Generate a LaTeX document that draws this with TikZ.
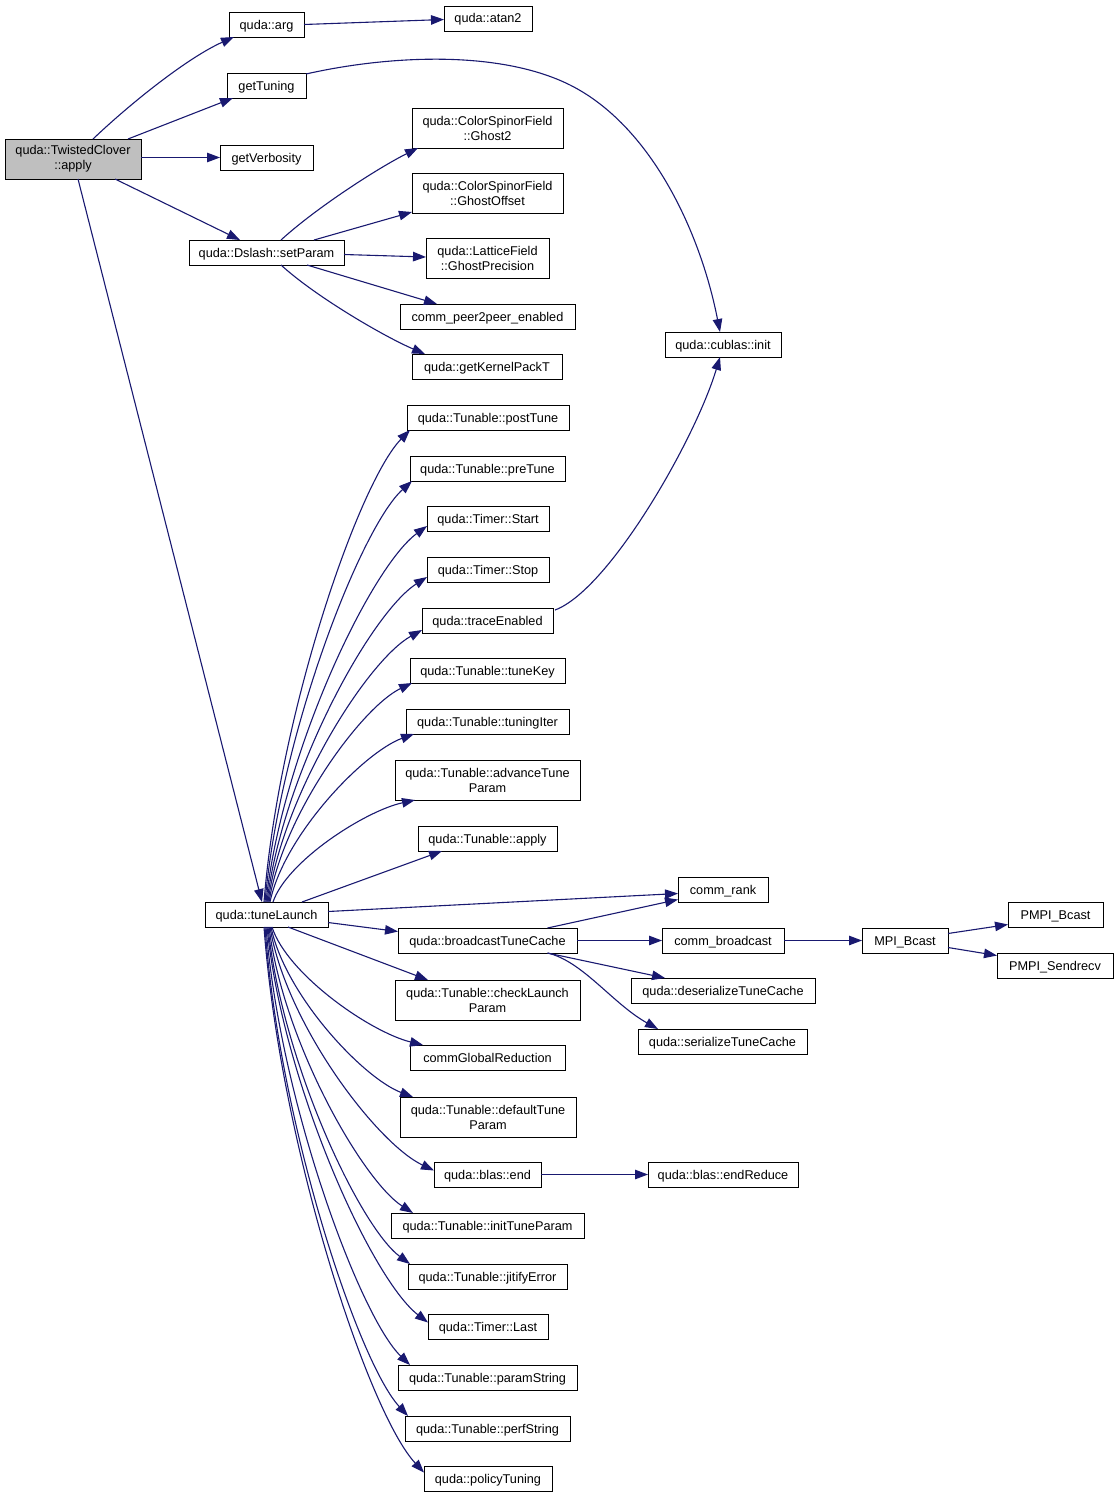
\documentclass[tikz,border=0pt]{standalone}
\usepackage{fontspec}
\setmainfont{Liberation Sans}
\usetikzlibrary{arrows.meta,calc}
\definecolor{edgecol}{HTML}{191970}
\definecolor{rootfill}{HTML}{BFBFBF}
\tikzset{
  base/.style={draw=black, line width=1pt, fill=white, inner sep=0pt, outer sep=0pt,
    align=center, font=\fontsize{12.7}{15}\selectfont},
  box/.style={base, minimum height=25pt, text height=10.5pt, text depth=1.5pt},
  tall/.style={base, minimum height=40pt},
  edge/.style={draw=edgecol, line width=1.1pt, -{Triangle[length=13pt,width=9.5pt]}},
}
\begin{document}
\begin{tikzpicture}[x=1pt,y=-1pt]
\useasboundingbox (0,0) rectangle (1119,1499);
% nodes
\node[tall,fill=rootfill,minimum width=136pt] (apply) at (73,159) {quda::TwistedClover\\::apply};
\node[box,minimum width=75pt] (arg) at (266.5,24.5) {quda::arg};
\node[box,minimum width=88pt] (atan2) at (488,18.5) {quda::atan2};
\node[box,minimum width=79pt] (getTuning) at (266.5,85.5) {getTuning};
\node[box,minimum width=93pt] (getVerbosity) at (266.5,157.5) {getVerbosity};
\node[box,minimum width=155pt] (setParam) at (266.5,252.5) {quda::Dslash::setParam};
\node[tall,minimum width=151pt] (ghost2) at (487.5,128) {quda::ColorSpinorField\\::Ghost2};
\node[tall,minimum width=151pt] (ghostOffset) at (487.5,193) {quda::ColorSpinorField\\::GhostOffset};
\node[tall,minimum width=123pt] (ghostPrec) at (487.5,258) {quda::LatticeField\\::GhostPrecision};
\node[box,minimum width=175pt] (peer) at (487.5,316.5) {comm\_peer2peer\_enabled};
\node[box,minimum width=150pt] (packT) at (487,366.5) {quda::getKernelPackT};
\node[box,minimum width=116pt] (cublas) at (723,344.5) {quda::cublas::init};
\node[box,minimum width=162pt] (postTune) at (488,417.5) {quda::Tunable::postTune};
\node[box,minimum width=155pt] (preTune) at (487.5,468.5) {quda::Tunable::preTune};
\node[box,minimum width=122pt] (tStart) at (488,518.5) {quda::Timer::Start};
\node[box,minimum width=122pt] (tStop) at (488,569.5) {quda::Timer::Stop};
\node[box,minimum width=131pt] (trace) at (487.5,620.5) {quda::traceEnabled};
\node[box,minimum width=155pt] (tuneKey) at (487.5,670.5) {quda::Tunable::tuneKey};
\node[box,minimum width=163pt] (tuningIter) at (487.5,721.5) {quda::Tunable::tuningIter};
\node[tall,minimum width=185pt] (advance) at (487.5,780) {quda::Tunable::advanceTune\\Param};
\node[box,minimum width=139pt] (tapply) at (487.5,838.5) {quda::Tunable::apply};
\node[box,minimum width=123pt] (tl) at (266.5,914.5) {quda::tuneLaunch};
\node[box,minimum width=90pt] (commRank) at (723,889.5) {comm\_rank};
\node[box,minimum width=179pt] (bcast) at (487.5,940.5) {quda::broadcastTuneCache};
\node[box,minimum width=122pt] (commBcast) at (723,940.5) {comm\_broadcast};
\node[box,minimum width=86pt] (mpiBcast) at (905,940.5) {MPI\_Bcast};
\node[box,minimum width=95pt] (pmpiBcast) at (1055.5,914.5) {PMPI\_Bcast};
\node[box,minimum width=116pt] (sendrecv) at (1055,965.5) {PMPI\_Sendrecv};
\node[tall,minimum width=185pt] (checkLaunch) at (487.5,1000) {quda::Tunable::checkLaunch\\Param};
\node[box,minimum width=184pt] (deser) at (723,990.5) {quda::deserializeTuneCache};
\node[box,minimum width=169pt] (ser) at (722.5,1041.5) {quda::serializeTuneCache};
\node[box,minimum width=155pt] (cgr) at (487.5,1057.5) {commGlobalReduction};
\node[tall,minimum width=176pt] (defTune) at (488,1117) {quda::Tunable::defaultTune\\Param};
\node[box,minimum width=107pt] (blasEnd) at (487.5,1174.5) {quda::blas::end};
\node[box,minimum width=150pt] (endReduce) at (723,1174.5) {quda::blas::endReduce};
\node[box,minimum width=193pt] (initTune) at (487.5,1225.5) {quda::Tunable::initTuneParam};
\node[box,minimum width=159pt] (jitify) at (487.5,1276.5) {quda::Tunable::jitifyError};
\node[box,minimum width=120pt] (tLast) at (488,1326.5) {quda::Timer::Last};
\node[box,minimum width=179pt] (paramString) at (487.5,1377.5) {quda::Tunable::paramString};
\node[box,minimum width=165pt] (perfString) at (487.5,1428.5) {quda::Tunable::perfString};
\node[box,minimum width=128pt] (policy) at (488,1478.5) {quda::policyTuning};

% edges from apply
\draw[edge] ($(apply.north west)+(88,0)$) .. controls +(40,-38) and +(-45,20) .. ($(arg.south west)+(5,0)$);
\draw[edge] ($(apply.north west)+(123,0)$) -- ($(getTuning.south west)+(6,0)$);
\draw[edge] ($(apply.east)+(0,-1.5)$) -- (getVerbosity.west);
\draw[edge] ($(apply.south west)+(110,0)$) -- ($(setParam.north west)+(51,0)$);
\draw[edge] ($(apply.south west)+(73,0)$) -- ($(tl.north west)+(57,0)$);
% arg, getTuning
\draw[edge] (arg.east) -- ($(atan2.west)+(0,1)$);
\draw[edge] ($(getTuning.north east)+(0,1)$) .. controls +(84,-19) and +(-70,-35) .. (570,85)
  .. controls +(80,40) and +(-20,-102) .. ($(cublas.north)+(-3,0)$);
% setParam
\draw[edge] ($(setParam.north west)+(92,0)$) .. controls +(35,-32) and +(-40,20) .. ($(ghost2.south west)+(6,0)$);
\draw[edge] ($(setParam.north west)+(125,0)$) -- ($(ghostOffset.south west)+(0,-1)$);
\draw[edge] ($(setParam.east)+(0,2)$) -- ($(ghostPrec.west)+(0,-1)$);
\draw[edge] ($(setParam.south west)+(118,0)$) -- ($(peer.north west)+(37,0)$);
\draw[edge] ($(setParam.south west)+(92,0)$) .. controls +(35,32) and +(-40,-17) .. ($(packT.north west)+(13,0)$);
% trace -> cublas
\draw[edge] ($(trace.north east)+(2,2)$) .. controls +(54,-20) and +(-25,83) .. ($(cublas.south)+(-3,0)$);
% tuneLaunch upward fan
\draw[edge] ($(tl.north west)+(59,0)$) .. controls +(15,-189) and +(-51,52) .. ($(postTune.south west)+(3,0)$);
\draw[edge] ($(tl.north west)+(60,0)$) .. controls +(15,-168) and +(-51,46) .. ($(preTune.south west)+(2,0)$);
\draw[edge] ($(tl.north west)+(61,0)$) .. controls +(16,-150) and +(-56,41) .. ($(tStart.south west)+(0,-5)$);
\draw[edge] ($(tl.north west)+(62,0)$) .. controls +(16,-130) and +(-56,36) .. ($(tStop.south west)+(0,-5)$);
\draw[edge] ($(tl.north west)+(63,0)$) .. controls +(15,-109) and +(-54,30) .. ($(trace.south west)+(0,-3)$);
\draw[edge] ($(tl.north west)+(64,0)$) .. controls +(14,-88) and +(-50,24) .. ($(tuneKey.south west)+(2,0)$);
\draw[edge] ($(tl.north west)+(65,0)$) .. controls +(14,-67) and +(-50,18) .. ($(tuningIter.south west)+(8,0)$);
\draw[edge] ($(tl.north west)+(68,0)$) .. controls +(14,-41) and +(-50,11) .. ($(advance.south west)+(20,0)$);
\draw[edge] ($(tl.north west)+(97,0)$) -- ($(tapply.south west)+(24,0)$);
% tuneLaunch right
\draw[edge] ($(tl.east)+(0,-3)$) -- ($(commRank.west)+(0,4)$);
\draw[edge] ($(tl.east)+(0,8)$) -- ($(bcast.west)+(0,-9)$);
\draw[edge] ($(bcast.north)+(60,0)$) -- ($(commRank.west)+(0,10)$);
\draw[edge] (bcast.east) -- (commBcast.west);
\draw[edge] (commBcast.east) -- (mpiBcast.west);
\draw[edge] ($(mpiBcast.east)+(0,-7)$) -- ($(pmpiBcast.west)+(0,10)$);
\draw[edge] ($(mpiBcast.east)+(0,7)$) -- ($(sendrecv.west)+(0,-10)$);
\draw[edge] ($(bcast.south)+(60,0)$) -- ($(deser.north west)+(34,0)$);
\draw[edge] ($(bcast.south)+(60,0)$) .. controls +(35,8) and +(-45,-25) .. ($(ser.north west)+(20,0)$);
% tuneLaunch downward fan
\draw[edge] ($(tl.south west)+(83,0)$) -- ($(checkLaunch.north west)+(33,0)$);
\draw[edge] ($(tl.south west)+(67,0)$) .. controls +(15,47) and +(-53,-13) .. ($(cgr.north west)+(13,0)$);
\draw[edge] ($(tl.south west)+(66,0)$) .. controls +(14,68) and +(-50,-19) .. ($(defTune.north west)+(13,0)$);
\draw[edge] ($(tl.south west)+(65,0)$) .. controls +(16,97) and +(-57,-27) .. ($(blasEnd.west)+(0,-4)$);
\draw[edge] ($(tl.south west)+(64,0)$) .. controls +(14,115) and +(-50,-32) .. ($(initTune.north west)+(22,0)$);
\draw[edge] ($(tl.south west)+(63,0)$) .. controls +(14,135) and +(-50,-37) .. ($(jitify.north west)+(2,0)$);
\draw[edge] ($(tl.south west)+(62,0)$) .. controls +(16,158) and +(-56,-43) .. ($(tLast.west)+(0,-4)$);
\draw[edge] ($(tl.south west)+(61,0)$) .. controls +(14,175) and +(-50,-48) .. ($(paramString.north west)+(12,0)$);
\draw[edge] ($(tl.south west)+(60,0)$) .. controls +(14,196) and +(-50,-54) .. ($(perfString.north west)+(3,0)$);
\draw[edge] ($(tl.south west)+(59,0)$) .. controls +(16,218) and +(-56,-60) .. ($(policy.west)+(0,-6)$);
% blas
\draw[edge] (blasEnd.east) -- (endReduce.west);
\end{tikzpicture}
\end{document}
